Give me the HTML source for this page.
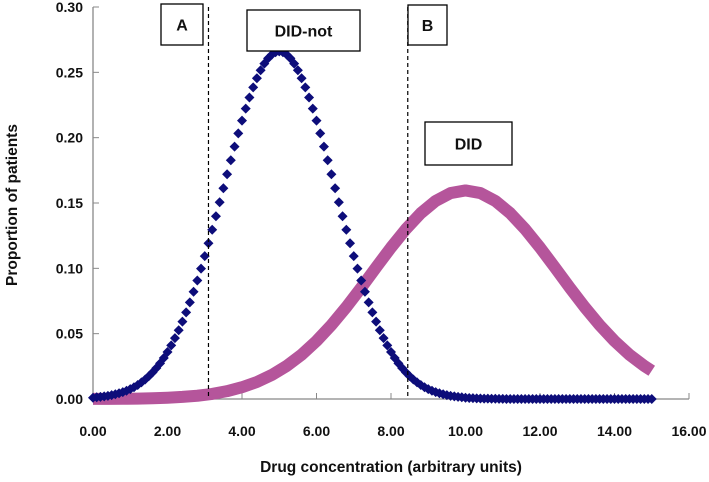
<!DOCTYPE html>
<html><head><meta charset="utf-8"><style>
body{margin:0;background:#fff;}
svg text{font-family:"Liberation Sans",sans-serif;font-weight:bold;fill:#111;}
</style></head><body>
<svg id="chart" width="709" height="477" viewBox="0 0 709 477" xmlns="http://www.w3.org/2000/svg">
<g id="axes"></g>
<g id="series"></g>
<g id="annot"></g>
</svg>
<script>
const xTicks=[0,2,4,6,8,10,12,14,16];
const yTicks=[0,0.05,0.10,0.15,0.20,0.25,0.30];
const blueX=[0,0.1,0.2,0.3,0.4,0.5,0.6,0.7,0.8,0.9,1,1.1,1.2,1.3,1.4,1.5,1.6,1.7,1.8,1.9,2,2.1,2.2,2.3,2.4,2.5,2.6,2.7,2.8,2.9,3,3.1,3.2,3.3,3.4,3.5,3.6,3.7,3.8,3.9,4,4.1,4.2,4.3,4.4,4.5,4.6,4.7,4.8,4.9,5,5.1,5.2,5.3,5.4,5.5,5.6,5.7,5.8,5.9,6,6.1,6.2,6.3,6.4,6.5,6.6,6.7,6.8,6.9,7,7.1,7.2,7.3,7.4,7.5,7.6,7.7,7.8,7.9,8,8.1,8.2,8.3,8.4,8.5,8.6,8.7,8.8,8.9,9,9.1,9.2,9.3,9.4,9.5,9.6,9.7,9.8,9.9,10,10.1,10.2,10.3,10.4,10.5,10.6,10.7,10.8,10.9,11,11.1,11.2,11.3,11.4,11.5,11.6,11.7,11.8,11.9,12,12.1,12.2,12.3,12.4,12.5,12.6,12.7,12.8,12.9,13,13.1,13.2,13.3,13.4,13.5,13.6,13.7,13.8,13.9,14,14.1,14.2,14.3,14.4,14.5,14.6,14.7,14.8,14.9,15];
const blueY=[0.0010,0.0013,0.0016,0.0020,0.0024,0.0030,0.0036,0.0044,0.0053,0.0063,0.0076,0.0090,0.0107,0.0127,0.0149,0.0175,0.0204,0.0236,0.0273,0.0314,0.0360,0.0410,0.0466,0.0526,0.0592,0.0663,0.0739,0.0821,0.0907,0.0998,0.1093,0.1192,0.1295,0.1399,0.1506,0.1613,0.1720,0.1827,0.1931,0.2033,0.2130,0.2222,0.2307,0.2385,0.2455,0.2516,0.2567,0.2607,0.2636,0.2654,0.2660,0.2654,0.2636,0.2607,0.2567,0.2516,0.2455,0.2385,0.2307,0.2222,0.2130,0.2033,0.1931,0.1827,0.1720,0.1613,0.1506,0.1399,0.1295,0.1192,0.1093,0.0998,0.0907,0.0821,0.0739,0.0663,0.0592,0.0526,0.0466,0.0410,0.0360,0.0314,0.0273,0.0236,0.0204,0.0175,0.0149,0.0127,0.0107,0.0090,0.0076,0.0063,0.0053,0.0044,0.0036,0.0030,0.0024,0.0020,0.0016,0.0013,0.0010,0.0008,0.0007,0.0005,0.0004,0.0003,0.0003,0.0002,0.0002,0.0001,0.0001,0,0,0,0,0,0,0,0,0,0,0,0,0,0,0,0,0,0,0,0,0,0,0,0,0,0,0,0,0,0,0,0,0,0,0,0,0,0,0,0];
const pinkX=[0,0.4,0.8,1.2,1.6,2,2.4,2.8,3.2,3.6,4,4.4,4.8,5.2,5.6,6,6.4,6.8,7.2,7.6,8,8.4,8.8,9.2,9.6,10,10.4,10.8,11.2,11.6,12,12.4,12.8,13.2,13.6,14,14.4,14.8,15];
const pinkY=[0.0001,0.0001,0.0002,0.0003,0.0006,0.0010,0.0016,0.0025,0.0039,0.0060,0.0090,0.0130,0.0184,0.0253,0.0339,0.0444,0.0566,0.0703,0.0852,0.1007,0.1159,0.1300,0.1422,0.1516,0.1576,0.1596,0.1576,0.1516,0.1422,0.1300,0.1159,0.1007,0.0852,0.0703,0.0566,0.0444,0.0339,0.0253,0.0216];
const NS="http://www.w3.org/2000/svg";
const X0=93,X1=689,Y0=399,Y1=7;
const sx=v=>X0+(v-0)/16*(X1-X0);
const sy=v=>Y0-(v/0.30)*(Y0-Y1);
function mk(tag,attrs,parent){const e=document.createElementNS(NS,tag);for(const k in attrs)e.setAttribute(k,attrs[k]);parent.appendChild(e);return e;}
const axes=document.getElementById('axes'),ser=document.getElementById('series'),ann=document.getElementById('annot');
let l=mk('line',{x1:X0,y1:Y1,x2:X0,y2:Y0,stroke:'#888','stroke-width':1.3},axes);


l=mk('line',{x1:X0,y1:Y0,x2:X1,y2:Y0,stroke:'#888','stroke-width':1.3},axes);


yTicks.forEach(v=>{const y=sy(v);
 mk('line',{x1:X0,y1:y,x2:X0+6,y2:y,stroke:'#888'},axes);
 const t=mk('text',{x:83,y:y+5,'text-anchor':'end','font-size':14},axes);t.textContent=v.toFixed(2);
 
 });
xTicks.forEach(v=>{const x=sx(v);
 mk('line',{x1:x,y1:Y0,x2:x,y2:Y0-6,stroke:'#888'},axes);
 const t=mk('text',{x:x,y:436,'text-anchor':'middle','font-size':14},axes);t.textContent=v.toFixed(2);
 
 });
let t=mk('text',{x:391,y:472,'text-anchor':'middle','font-size':15.5},axes);t.textContent='Drug concentration (arbitrary units)';


t=mk('text',{x:0,y:0,'text-anchor':'middle','font-size':15.5,transform:'translate(17,205) rotate(-90)'},axes);t.textContent='Proportion of patients';


[[3.1,'threshold-a-line'],[8.45,'threshold-b-line']].forEach(([v,n])=>{
 const d=mk('line',{x1:sx(v),y1:Y1,x2:sx(v),y2:Y0,stroke:'#000','stroke-width':1.2,'stroke-dasharray':'4,3'},ann);
 
 });
const pts=pinkX.map((x,i)=>sx(x)+','+sy(pinkY[i])).join(' ');
const pl=mk('polyline',{points:pts,fill:'none',stroke:'#b5559b','stroke-width':12,'stroke-linejoin':'round','stroke-linecap':'butt'},ser);


blueX.forEach((x,i)=>{const cx=sx(x),cy=sy(blueY[i]);
 const p=mk('polygon',{points:`${cx},${cy-5} ${cx+5},${cy} ${cx},${cy+5} ${cx-5},${cy}`,fill:'#0d0d7a'},ser);
 
 });
[[161,4,42,41,'A','label-box-a'],[247,10,113,41,'DID-not','label-box-did-not'],[408,5,39,40,'B','label-box-b'],[425,122,87,43,'DID','label-box-did']].forEach(([x,y,w,h,s,n])=>{
 const g=mk('g',{},ann);
 
 
 mk('rect',{x:x,y:y,width:w,height:h,fill:'#fff',stroke:'#000','stroke-width':1.3},g);
 const tt=mk('text',{x:x+w/2,y:y+h/2+6,'text-anchor':'middle','font-size':16},g);tt.textContent=s;});
</script>
</body></html>
